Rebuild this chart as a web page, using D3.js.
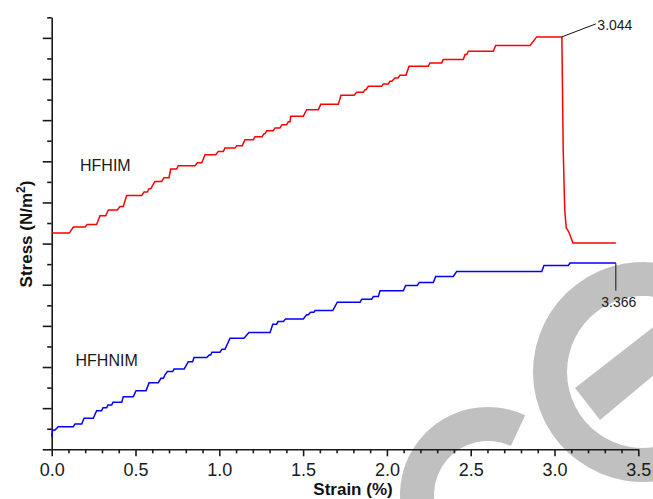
<!DOCTYPE html>
<html>
<head>
<meta charset="utf-8">
<script src="https://cdn.jsdelivr.net/npm/d3@7"></script>
<style>
  body { margin: 0; background: #fff; }
  svg { display: block; font-family: "Liberation Sans", Arial, sans-serif; }
</style>
</head>
<body>
<div id="chart"></div>
<script>
// values (strain in %, stress in axis units, no labels on y)
var redStrain = [0, 0.105, 0.129, 0.199, 0.212, 0.268, 0.288, 0.322, 0.338, 0.391, 0.408, 0.427,
  0.447, 0.537, 0.551, 0.570, 0.581, 0.591, 0.616, 0.656, 0.670, 0.700, 0.710, 0.746, 0.755, 0.855,
  0.869, 0.895, 0.915, 0.979, 0.994, 1.024, 1.034, 1.094, 1.104, 1.137, 1.153, 1.203, 1.213, 1.255,
  1.267, 1.273, 1.283, 1.322, 1.332, 1.362, 1.374, 1.402, 1.412, 1.422, 1.426, 1.501, 1.521, 1.591,
  1.605, 1.710, 1.726, 1.804, 1.820, 1.859, 1.869, 1.875, 1.889, 1.969, 1.979, 2.008, 2.018, 2.030,
  2.048, 2.066, 2.078, 2.114, 2.132, 2.247, 2.257, 2.327, 2.336, 2.456, 2.466, 2.476, 2.486, 2.635,
  2.649, 2.854, 2.894, 3.044, 3.052, 3.061, 3.070, 3.085, 3.103, 3.110, 3.366];
var redStress = [5.255, 5.255, 5.401, 5.401, 5.465, 5.465, 5.676, 5.676, 5.815, 5.815, 5.903, 5.903,
  6.170, 6.170, 6.253, 6.253, 6.333, 6.333, 6.511, 6.511, 6.601, 6.601, 6.813, 6.813, 6.893, 6.893,
  6.966, 6.966, 7.161, 7.161, 7.241, 7.241, 7.324, 7.324, 7.380, 7.380, 7.526, 7.526, 7.599, 7.599,
  7.672, 7.672, 7.745, 7.745, 7.810, 7.810, 7.891, 7.891, 7.964, 7.964, 8.092, 8.092, 8.255, 8.255,
  8.384, 8.384, 8.603, 8.603, 8.676, 8.676, 8.742, 8.742, 8.822, 8.822, 8.881, 8.881, 8.944, 8.944,
  9.027, 9.027, 9.090, 9.090, 9.309, 9.309, 9.392, 9.392, 9.472, 9.472, 9.594, 9.594, 9.674, 9.674,
  9.813, 9.813, 10.024, 10.024, 7.282, 5.822, 5.384, 5.287, 5.092, 5.012, 5.012];

var blueStrain = [0, 0.006, 0.020, 0.039, 0.129, 0.139, 0.179, 0.193, 0.248, 0.268, 0.298, 0.306,
  0.328, 0.336, 0.358, 0.366, 0.418, 0.427, 0.487, 0.503, 0.563, 0.581, 0.636, 0.652, 0.666, 0.676,
  0.690, 0.722, 0.730, 0.791, 0.815, 0.841, 0.849, 0.925, 0.940, 0.949, 0.956, 1.004, 1.016, 1.034,
  1.064, 1.147, 1.177, 1.303, 1.319, 1.342, 1.350, 1.382, 1.396, 1.501, 1.521, 1.531, 1.545, 1.565,
  1.571, 1.677, 1.704, 1.840, 1.850, 1.909, 1.919, 1.949, 1.959, 2.098, 2.112, 2.181, 2.193, 2.277,
  2.291, 2.396, 2.416, 2.924, 2.937, 3.082, 3.092, 3.366];
var blueStress = [0.307, 0.470, 0.470, 0.550, 0.550, 0.616, 0.616, 0.754, 0.754, 0.939, 0.939, 1.012,
  1.012, 1.078, 1.078, 1.144, 1.144, 1.280, 1.280, 1.426, 1.426, 1.620, 1.620, 1.727, 1.727, 1.808,
  1.888, 1.888, 1.954, 1.954, 2.131, 2.131, 2.229, 2.229, 2.294, 2.294, 2.360, 2.360, 2.433, 2.433,
  2.701, 2.701, 2.837, 2.837, 3.041, 3.041, 3.105, 3.105, 3.170, 3.170, 3.268, 3.268, 3.333, 3.333,
  3.372, 3.372, 3.577, 3.577, 3.650, 3.650, 3.713, 3.713, 3.852, 3.852, 3.981, 3.981, 4.054, 4.054,
  4.200, 4.200, 4.321, 4.321, 4.467, 4.467, 4.526, 4.526];

var xTicks = [0, 0.5, 1.0, 1.5, 2.0, 2.5, 3.0, 3.5];
var seriesNames = ["HFHIM", "HFHNIM"];
var peakLabel = "3.044", endLabel = "3.366";

var W = 653, H = 499;
var svg = d3.select("#chart").append("svg").attr("width", W).attr("height", H);

var x = d3.scaleLinear().domain([0, 3.5]).range([51.7, 638.3]);
var y = d3.scaleLinear().domain([0, 10.5]).range([449.3, 17.3]);

// grey watermark behind the plot
var wm = svg.append("g").attr("fill", "#c0c0c0");
wm.append("path")
  .attr("transform", "translate(643,372)")
  .attr("d", d3.arc().innerRadius(76).outerRadius(110)
    .startAngle(83 * Math.PI / 180).endAngle(403 * Math.PI / 180)());
wm.append("path").attr("d", "M575,388L600,420L690,345L665,318Z");
wm.append("path")
  .attr("transform", "translate(488,495)")
  .attr("d", d3.arc().innerRadius(54).outerRadius(88)
    .startAngle(-125 * Math.PI / 180).endAngle(25 * Math.PI / 180)());

// axes
var axisColor = "#1a1a1a";
function styleAxis(g) {
  g.selectAll("path, line").attr("stroke", axisColor).attr("stroke-width", 1.6);
  g.selectAll("text").attr("fill", "#1a1a1a").style("font-size", "18px")
    .style("font-family", "'Liberation Sans', Arial, sans-serif");
}

var xMinor = d3.range(0, 36).map(function (i) { return i / 10; })
  .filter(function (v) { return Math.round(v * 10) % 5 !== 0; });
svg.append("g").attr("transform", "translate(0,449.3)")
  .call(d3.axisBottom(x).tickValues(xMinor).tickSize(4).tickFormat(""))
  .call(function (g) { g.select(".domain").remove(); })
  .call(styleAxis);
svg.append("g").attr("transform", "translate(0,449.3)")
  .call(d3.axisBottom(x).tickValues(xTicks).tickSize(7).tickSizeOuter(0)
    .tickPadding(7).tickFormat(d3.format(".1f")))
  .call(styleAxis);

var yMajor = d3.range(0, 11);
var yMinor = d3.range(0, 11).map(function (i) { return i + 0.5; });
svg.append("g").attr("transform", "translate(51.7,0)")
  .call(d3.axisLeft(y).tickValues(yMinor).tickSize(4.5).tickFormat(""))
  .call(function (g) { g.select(".domain").remove(); })
  .call(styleAxis);
svg.append("g").attr("transform", "translate(51.7,0)")
  .call(d3.axisLeft(y).tickValues(yMajor).tickSize(9).tickSizeOuter(0).tickFormat(""))
  .call(styleAxis);

// axis titles
svg.append("text")
  .attr("x", 353).attr("y", 495)
  .attr("text-anchor", "middle")
  .style("font-size", "17px").style("font-weight", "bold").attr("fill", "#111")
  .text("Strain (%)");

var yt = svg.append("text")
  .attr("transform", "translate(31.5,234) rotate(-90)")
  .attr("text-anchor", "middle")
  .style("font-size", "17px").style("font-weight", "bold").attr("fill", "#111");
yt.append("tspan").text("Stress (N/m");
yt.append("tspan").attr("dy", -7).style("font-size", "12px").text("2");
yt.append("tspan").attr("dy", 7).text(")");

// curves
var line = d3.line().x(function (d) { return x(d[0]); }).y(function (d) { return y(d[1]); });
var redPts = d3.zip(redStrain, redStress);
var bluePts = d3.zip(blueStrain, blueStress);

svg.append("path").datum(redPts).attr("d", line)
  .attr("fill", "none").attr("stroke", "#ff0000").attr("stroke-width", 1.5);
svg.append("path").datum(bluePts).attr("d", line)
  .attr("fill", "none").attr("stroke", "#0000ff").attr("stroke-width", 1.5);

// series labels
svg.append("text").attr("x", 80).attr("y", 170.5)
  .style("font-size", "16px").attr("fill", "#1a1a1a").text(seriesNames[0]);
svg.append("text").attr("x", 75.5).attr("y", 366)
  .style("font-size", "16px").attr("fill", "#1a1a1a").text(seriesNames[1]);

// annotations
var px = x(3.044), py = y(d3.max(redStress));
svg.append("line").attr("x1", px).attr("y1", py).attr("x2", px + 34).attr("y2", py - 13)
  .attr("stroke", "#111").attr("stroke-width", 1);
svg.append("text").attr("x", px + 35.5).attr("y", py - 7)
  .style("font-size", "14px").attr("fill", "#1a1a1a").text(peakLabel);

var bx = x(3.366), by = y(blueStress[blueStress.length - 1]);
svg.append("line").attr("x1", bx).attr("y1", by).attr("x2", bx).attr("y2", by + 27.5)
  .attr("stroke", "#111").attr("stroke-width", 1);
svg.append("text").attr("x", bx + 3).attr("y", by + 44)
  .attr("text-anchor", "middle")
  .style("font-size", "14px").attr("fill", "#1a1a1a").text(endLabel);
</script>
</body>
</html>
